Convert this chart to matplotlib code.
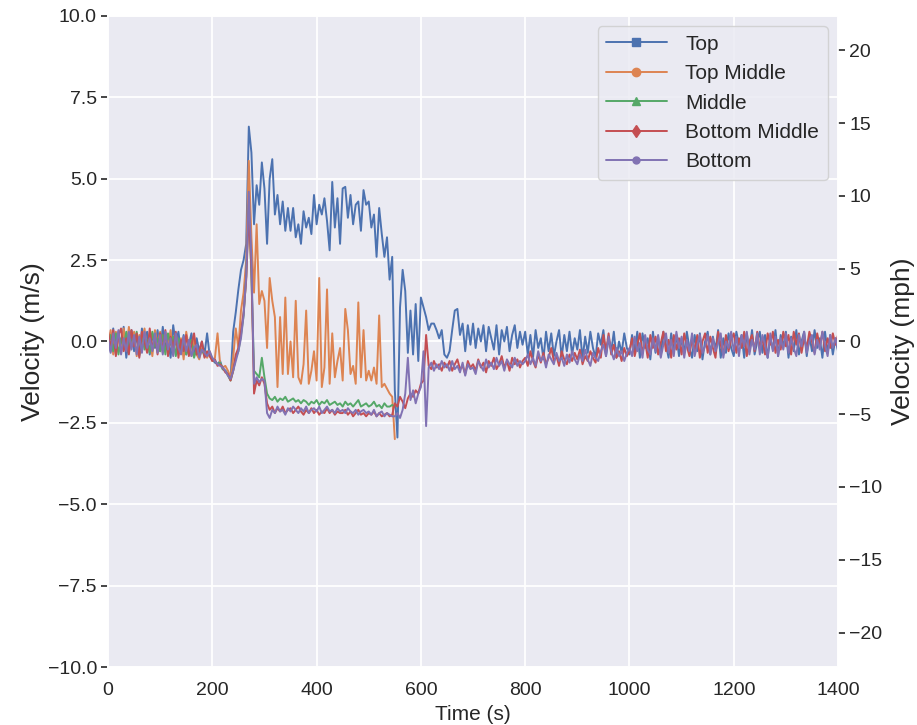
import matplotlib
matplotlib.use('Agg')
import matplotlib.pyplot as plt
from matplotlib.lines import Line2D
import numpy as np
import seaborn as sns

sns.set_theme(style='darkgrid')
plt.rcParams['font.family'] = ['Liberation Sans', 'DejaVu Sans']
plt.rcParams['axes.unicode_minus'] = True

# sample spacing of the readings (s)
dt = 5
MS_TO_MPH = 2.23694

# velocity readings (m/s), one row per 50 s
top = [
    0.2, -0.3, 0.4, -0.4, 0.3, -0.2, 0.45, -0.5, 0.1, 0.35,
    -0.3, 0.2, -0.45, 0.4, -0.1, 0.3, -0.4, 0.25, -0.2, 0.35,
    -0.3, 0.45, -0.2, 0.1, -0.5, 0.5, -0.1, 0.3, -0.35, 0.2,
    -0.4, -0.1, 0.25, -0.45, 0.1, -0.3, 0.0, -0.4, 0.25, -0.45,
    -0.55, -0.65, -0.7, -0.6, -0.85, -0.9, -1.0, -1.15, 0.3, 0.9,
    1.6, 2.2, 2.5, 3.0, 6.6, 5.8, 3.6, 4.8, 4.2, 5.5,
    4.7, 3.0, 5.0, 5.6, 3.9, 4.5, 3.6, 4.3, 3.4, 4.1,
    3.4, 4.1, 3.2, 3.6, 3.0, 4.0, 3.5, 3.8, 3.3, 4.5,
    3.6, 4.2, 3.9, 4.4, 3.7, 2.8, 4.9, 3.5, 4.4, 3.0,
    4.7, 4.75, 3.8, 4.5, 3.6, 4.2, 4.3, 3.4, 4.65, 4.2,
    4.3, 3.5, 3.9, 2.6, 4.1, 3.3, 2.6, 3.2, 1.9, 2.6,
    -1.5, -2.95, 1.05, 2.2, 1.55, -0.35, 0.95, -0.4, 1.15, -0.6,
    1.35, 1.05, 0.75, 0.35, 0.55, 0.55, 0.35, 0.1, 0.35, -0.4,
    -0.5, -0.3, 0.35, 0.95, 1.0, 0.2, 0.55, -0.3, 0.5, -0.1,
    0.55, -0.2, 0.4, 0.0, 0.5, -0.3, 0.45, 0.1, -0.25, 0.5,
    -0.4, 0.35, 0.0, 0.45, -0.3, 0.2, 0.5, -0.2, 0.3, -0.1,
    0.3, -0.4, 0.2, -0.5, 0.35, -0.2, 0.1, -0.55, 0.3, -0.3,
    0.25, -0.45, 0.0, 0.35, -0.5, 0.2, -0.3, 0.3, -0.4, 0.1,
    -0.25, 0.35, -0.55, 0.15, -0.35, 0.3, -0.2, -0.5, 0.25, -0.1,
    0.35, -0.45, 0.1, -0.3, 0.3, -0.5, 0.0, -0.35, 0.25, -0.2,
    -0.4, 0.2, -0.3, 0.3, -0.5, 0.25, -0.2, 0.1, -0.55, 0.3,
    -0.35, 0.15, -0.45, 0.3, -0.1, -0.5, 0.25, -0.3, 0.2, -0.45,
    0.1, -0.35, 0.3, -0.2, -0.5, 0.2, -0.3, 0.25, -0.55, 0.0,
    0.3, -0.4, 0.15, -0.25, 0.35, -0.5, 0.1, -0.35, 0.25, -0.2,
    -0.45, 0.3, -0.1, 0.2, -0.5, 0.25, -0.3, 0.35, -0.4, 0.0,
    0.3, -0.35, 0.2, -0.5, 0.1, -0.25, 0.35, -0.45, 0.2, -0.15,
    0.3, -0.5, 0.15, -0.3, 0.35, -0.4, 0.0, 0.3, -0.45, 0.2,
    -0.3, 0.35, -0.2, 0.1, -0.5, 0.3, -0.35, 0.2, -0.4, 0.1,
    -0.3,
]

top_middle = [
    -0.2, 0.35, -0.4, 0.3, 0.1, -0.35, 0.4, -0.25, 0.45, -0.1,
    0.3, -0.45, 0.2, 0.0, 0.4, -0.3, 0.15, -0.45, 0.35, -0.1,
    0.3, -0.35, 0.2, -0.15, 0.35, -0.4, 0.25, -0.3, 0.1, -0.55,
    0.3, -0.2, -0.45, 0.15, -0.4, -0.55, -0.2, -0.35, -0.5, -0.3,
    -0.6, -0.5, 0.25, -0.7, -0.8, -0.75, -0.9, -1.1, -0.5, 0.4,
    -0.2, 0.95, 1.5, 2.5, 5.55, 3.2, 1.5, 3.6, 1.15, 1.55,
    1.25, -0.2, 1.95, 1.25, 0.75, -1.4, 0.75, -1.0, 1.35, -1.0,
    0.0, -1.1, 1.25, -1.1, -1.3, -0.7, 0.95, -1.3, -0.9, -0.3,
    -1.2, 1.95, -1.4, -0.8, 1.6, -1.3, 0.25, -1.1, -0.6, -0.2,
    -1.2, 1.0, 0.35, -1.0, -0.75, -1.3, 1.2, -1.1, 0.35, -1.2,
    -0.9, -1.2, -0.8, -1.3, 0.8, -1.4, -1.3, -1.45, -1.6, -1.7,
    -3.0,
]

middle = [
    -0.1, 0.2, -0.3, 0.25, -0.4, 0.1, -0.2, 0.3, -0.35, 0.15,
    -0.1, 0.3, -0.4, 0.2, -0.25, 0.05, -0.35, 0.3, -0.15, 0.1,
    -0.3, 0.2, -0.4, 0.25, -0.1, 0.15, -0.45, 0.1, -0.3, 0.0,
    -0.4, -0.15, 0.05, -0.5, -0.2, -0.4, -0.25, -0.45, -0.35, -0.4,
    -0.55, -0.6, -0.7, -0.65, -0.85, -0.9, -1.05, -1.2, -0.9, -0.5,
    -0.3, 0.2, 0.8, 2.0, 4.2, 2.0, -0.9, -1.0, -1.1, -0.5,
    -1.1, -1.6, -1.75, -1.8, -1.7, -1.85, -1.75, -1.8, -1.7, -1.85,
    -1.8, -1.75, -1.85, -1.8, -1.9, -1.8, -1.85, -1.95, -1.85, -1.9,
    -1.8, -1.95, -1.85, -1.9, -1.8, -1.95, -1.9, -1.85, -1.95, -1.9,
    -2.0, -1.85, -1.95, -1.9, -2.0, -1.9, -1.8, -2.0, -1.95, -1.9,
    -2.0, -1.95, -1.85, -2.0, -1.95, -2.05, -1.9, -2.0, -2.0, -1.95,
    -2.0,
]

bottom_middle = [
    0.3, -0.2, 0.35, -0.45, 0.2, 0.4, -0.3, 0.1, -0.4, 0.35,
    -0.15, 0.25, -0.5, 0.3, 0.0, -0.35, 0.4, -0.25, 0.2, -0.4,
    0.25, -0.3, 0.35, -0.45, 0.15, -0.2, 0.3, -0.5, 0.05, -0.3,
    0.2, -0.45, -0.1, 0.25, -0.4, -0.3, 0.0, -0.5, -0.3, -0.45,
    -0.6, -0.55, -0.75, -0.7, -0.8, -0.95, -1.0, -1.2, -0.9, -0.4,
    -0.2, 0.3, 0.9, 1.9, 4.0, 2.2, -1.6, -1.2, -1.35, -1.1,
    -1.3, -1.9, -2.1, -2.0, -2.2, -2.05, -2.15, -2.0, -2.2, -2.1,
    -2.05, -2.2, -2.1, -2.0, -2.15, -2.25, -2.1, -2.2, -2.05, -2.2,
    -2.1, -2.25, -2.15, -2.2, -2.05, -2.2, -2.1, -2.25, -2.15, -2.2,
    -2.2, -2.1, -2.25, -2.15, -2.3, -2.2, -2.1, -2.25, -2.2, -2.3,
    -2.2, -2.25, -2.15, -2.3, -2.2, -2.3, -2.25, -2.2, -2.3, -2.25,
    -1.9, -2.0, -1.7, -1.85, -2.05, -1.75, -1.6, -1.7, -1.5, -1.6,
    -1.3, -1.2, 0.2, -0.75, -0.85, -0.6, -0.8, -0.7, -0.9, -0.65,
    -0.8, -0.6, -0.9, -0.7, -0.55, -0.85, -0.75, -1.0, -0.6, -0.8,
    -0.7, -0.9, -0.55, -0.8, -0.65, -0.95, -0.6, -0.75, -0.5, -0.85,
    -0.7, -0.45, -0.8, -0.6, -0.9, -0.5, -0.7, -0.55, -0.8, -0.6,
    -0.5, -0.75, -0.3, -0.6, -0.8, -0.4, -0.65, -0.35, -0.7, -0.5,
    -0.2, -0.6, -0.45, -0.75, -0.3, -0.55, -0.7, -0.4, -0.6, -0.35,
    -0.55, -0.25, -0.7, -0.45, -0.6, -0.3, -0.5, -0.65, -0.2, -0.5,
    0.2, -0.3, 0.25, -0.4, -0.1, -0.5, -0.3, -0.6, -0.2, -0.45,
    -0.3, 0.1, -0.45, -0.1, 0.25, -0.35, 0.0, -0.5, 0.2, -0.2,
    0.15, -0.4, -0.05, 0.3, -0.3, 0.05, -0.5, 0.2, -0.25, 0.1,
    -0.4, 0.25, -0.15, -0.45, 0.1, -0.3, 0.2, -0.5, 0.0, 0.25,
    -0.35, 0.15, -0.2, -0.5, 0.3, -0.1, -0.4, 0.2, -0.3, 0.05,
    0.25, -0.35, 0.1, -0.2, 0.3, -0.45, 0.0, 0.2, -0.3, 0.3,
    -0.2, 0.1, -0.4, 0.25, -0.1, 0.3, -0.35, 0.05, -0.25, 0.3,
    -0.15, 0.2, -0.4, 0.3, -0.1, 0.25, -0.35, 0.1, -0.2, 0.3,
    0.0, -0.35, 0.25, -0.15, 0.3, -0.3, 0.1, -0.2, 0.25, -0.1,
    0.2,
]

bottom = [
    0.1, -0.35, 0.25, -0.2, 0.35, -0.4, 0.1, -0.3, 0.3, -0.25,
    0.2, -0.4, 0.15, -0.35, 0.3, -0.2, 0.1, -0.3, 0.25, -0.35,
    0.2, -0.4, 0.3, -0.25, 0.1, -0.45, 0.25, -0.2, -0.4, 0.15,
    -0.3, 0.05, -0.45, -0.2, -0.1, -0.5, -0.25, -0.35, -0.45, -0.3,
    -0.5, -0.6, -0.7, -0.75, -0.8, -0.9, -1.05, -1.15, -0.9, -0.6,
    -0.3, 0.1, 0.8, 2.0, 4.6, 2.5, -1.3, -1.1, -1.25, -1.15,
    -1.2, -2.2, -2.35, -2.1, -2.2, -2.0, -2.15, -2.1, -2.25, -2.05,
    -2.15, -2.0, -2.1, -2.2, -2.05, -2.15, -2.0, -2.2, -2.1, -2.05,
    -2.15, -2.0, -2.2, -2.1, -2.0, -2.15, -2.1, -2.2, -2.05, -2.15,
    -2.1, -2.2, -2.05, -2.15, -2.2, -2.1, -2.25, -2.15, -2.1, -2.2,
    -2.15, -2.25, -2.1, -2.3, -2.2, -2.15, -2.3, -2.2, -2.25, -2.3,
    -2.3, -2.2, -2.35, -2.1, -1.6, -0.5, -1.8, -1.5, -1.9, -1.6,
    -1.4, -0.3, -2.6, -0.8, -0.65, -0.9, -0.7, -0.85, -0.6, -0.8,
    -0.7, -0.9, -0.6, -0.85, -0.75, -0.95, -0.65, -1.05, -0.7, -0.85,
    -0.8, -1.0, -0.6, -0.75, -0.9, -0.55, -0.8, -0.65, -0.85, -0.5,
    -0.75, -0.6, -0.9, -0.55, -0.7, -0.8, -0.5, -0.75, -0.6, -0.7,
    -0.6, -0.4, -0.7, -0.5, -0.75, -0.3, -0.6, -0.45, -0.8, -0.4,
    -0.55, -0.7, -0.35, -0.6, -0.5, -0.75, -0.4, -0.65, -0.3, -0.55,
    -0.7, -0.4, -0.6, -0.25, -0.55, -0.75, -0.35, -0.5, -0.6, -0.3,
    -0.1, -0.45, 0.15, -0.3, -0.55, -0.2, -0.45, -0.3, -0.6, -0.35,
    -0.2, -0.45, 0.15, -0.3, -0.05, -0.5, 0.2, -0.25, -0.4, 0.1,
    -0.3, 0.2, -0.5, -0.1, 0.25, -0.35, 0.05, -0.45, 0.3, -0.2,
    0.15, -0.5, 0.05, -0.3, 0.25, -0.45, -0.1, 0.2, -0.35, -0.15,
    0.2, -0.4, 0.1, -0.3, -0.05, 0.25, -0.5, 0.0, -0.2, 0.3,
    -0.3, 0.15, -0.45, 0.2, -0.15, 0.3, -0.4, 0.05, -0.25, 0.25,
    -0.4, 0.2, -0.1, -0.5, 0.25, -0.3, 0.15, -0.45, 0.1, -0.25,
    0.25, -0.35, 0.1, -0.2, -0.45, 0.2, -0.15, 0.3, -0.35, 0.0,
    0.2, -0.4, 0.05, -0.25, 0.3, -0.1, -0.45, 0.2, -0.2, 0.1,
    -0.25,
]

labels = ['Top', 'Top Middle', 'Middle', 'Bottom Middle', 'Bottom']
series = [top, top_middle, middle, bottom_middle, bottom]
markers = ['s', 'o', '^', 'd', 'o']
msizes = [6, 6, 6, 6, 5]
colors = sns.color_palette('deep', 5)

fig = plt.figure(figsize=(9.17, 7.25), dpi=100)
ax = fig.add_axes([0.1178, 0.08, 0.7961, 0.898])

handles = []
for vals, lab, mk, ms, c in zip(series, labels, markers, msizes, colors):
    t = np.arange(len(vals)) * dt
    ax.plot(t, vals, color=c, lw=1.4)
    handles.append(Line2D([], [], color=c, lw=1.4, marker=mk, ms=ms, label=lab))

ax.set_xlim(0, 1400)
ax.set_ylim(-10, 10)
ax.set_xlabel('Time (s)', fontsize=15, labelpad=4)
ax.set_ylabel('Velocity (m/s)', fontsize=19, labelpad=2)
ax.tick_params(axis='y', labelsize=14, length=5, width=1.2, color='#262626', pad=3)
ax.tick_params(axis='x', labelsize=14, length=0, pad=11)
for g in ax.get_xgridlines() + ax.get_ygridlines():
    g.set_linewidth(1.3)

ax2 = ax.twinx()
ax2.set_ylim(-10 * MS_TO_MPH, 10 * MS_TO_MPH)
ax2.grid(False)
ax2.set_ylabel('Velocity (mph)', fontsize=19, labelpad=6)
ax2.tick_params(axis='y', labelsize=14, length=5, width=1.2, color='#262626', pad=3)

leg = ax.legend(handles=handles, loc='upper right', fontsize=15, handlelength=2.9,
                frameon=True, borderaxespad=0.5, labelspacing=0.5, handletextpad=0.9)
leg.get_frame().set_edgecolor('#cccccc')

fig.savefig('out.png', dpi=100)
